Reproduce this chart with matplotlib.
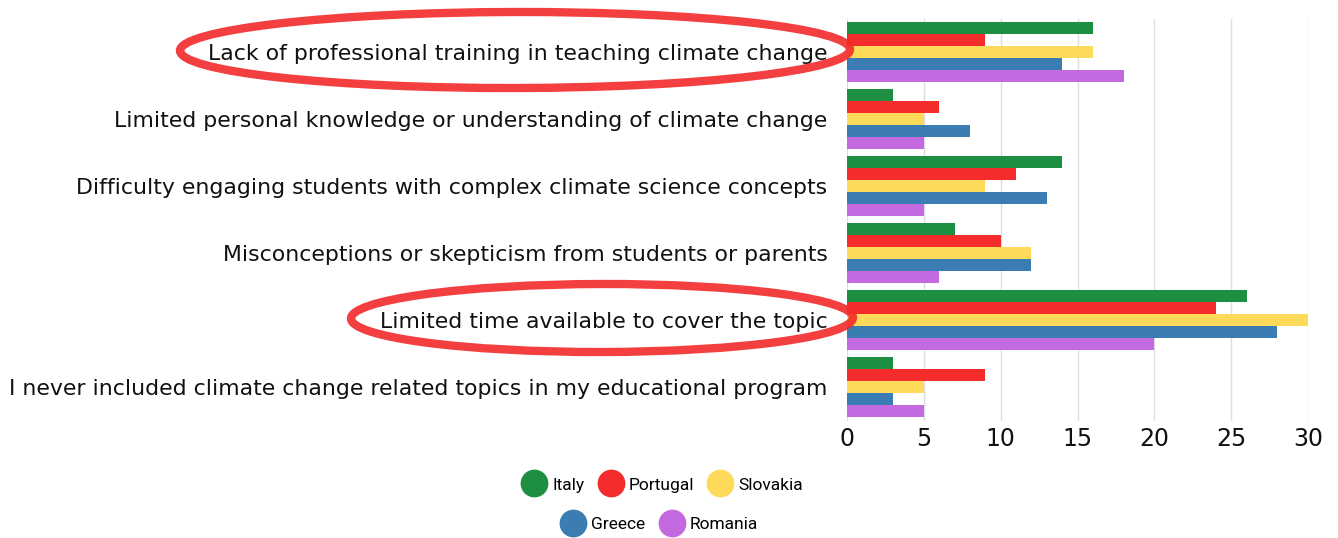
import matplotlib.pyplot as plt
from matplotlib.patches import Ellipse
from matplotlib.lines import Line2D
import numpy as np

categories = [
    "Lack of professional training in teaching climate change",
    "Limited personal knowledge or understanding of climate change",
    "Difficulty engaging students with complex climate science concepts",
    "Misconceptions or skepticism from students or parents",
    "Limited time available to cover the topic",
    "I never included climate change related topics in my educational program",
]
countries = ["Italy", "Portugal", "Slovakia", "Greece", "Romania"]
italy = [16, 3, 14, 7, 26, 3]
portugal = [9, 6, 11, 10, 24, 9]
slovakia = [16, 5, 9, 12, 30, 5]
greece = [14, 8, 13, 12, 28, 3]
romania = [18, 5, 5, 6, 20, 5]
xticks = [0, 5, 10, 15, 20, 25, 30]

series = [italy, portugal, slovakia, greece, romania]
colors = ["#1e8f42", "#f42c2c", "#fdda5a", "#3b7db2", "#c46ae0"]

W, H = 1338, 538
fig = plt.figure(figsize=(W / 100, H / 100), dpi=100)
ax = fig.add_axes([847 / W, 1 - 420.5 / H, (1308 - 847) / W, 402 / H])

y = np.arange(len(categories))
bh = 0.18
for i, (vals, c) in enumerate(zip(series, colors)):
    ax.barh(y + (i - 2) * bh, vals, height=bh * 0.95, color=c, label=countries[i], zorder=3)

ax.set_xlim(0, 30)
ax.set_ylim(len(categories) - 0.5, -0.5)
ax.set_xticks(xticks)
ax.set_yticks(y)
ax.set_yticklabels(categories, fontsize=15.8, color="#111111")
ax.tick_params(axis="x", labelsize=17, length=0, pad=5, labelcolor="#111111")
ax.tick_params(axis="y", length=0, pad=14)
ax.grid(axis="x", color="#dddddd", linewidth=1, zorder=0)
for s in ax.spines.values():
    s.set_visible(False)

# legend rows
def handle(c):
    return Line2D([], [], marker="o", linestyle="", markersize=19, markerfacecolor=c, markeredgecolor=c)

kw = dict(frameon=False, handletextpad=0.05, columnspacing=0.5,
          prop={"family": "Roboto", "size": 12.5})
fig.legend([handle(c) for c in colors[:3]], countries[:3], ncol=3,
           loc="center", bbox_to_anchor=(660 / W, 1 - 485 / H), **kw)
fig.legend([handle(c) for c in colors[3:]], countries[3:], ncol=2,
           loc="center", bbox_to_anchor=(657 / W, 1 - 524 / H), **kw)

# red hand-drawn highlight ellipses
fig.patches.append(Ellipse((515 / W, 1 - 50 / H), 670 / W, 76 / H, angle=0.3,
                           transform=fig.transFigure, fill=False, edgecolor="#f22a2a", linewidth=6, alpha=0.9))
fig.patches.append(Ellipse((602 / W, 1 - 318 / H), 502 / W, 68 / H, angle=0.3,
                           transform=fig.transFigure, fill=False, edgecolor="#f22a2a", linewidth=6, alpha=0.9))

fig.savefig("out.png", dpi=100)
